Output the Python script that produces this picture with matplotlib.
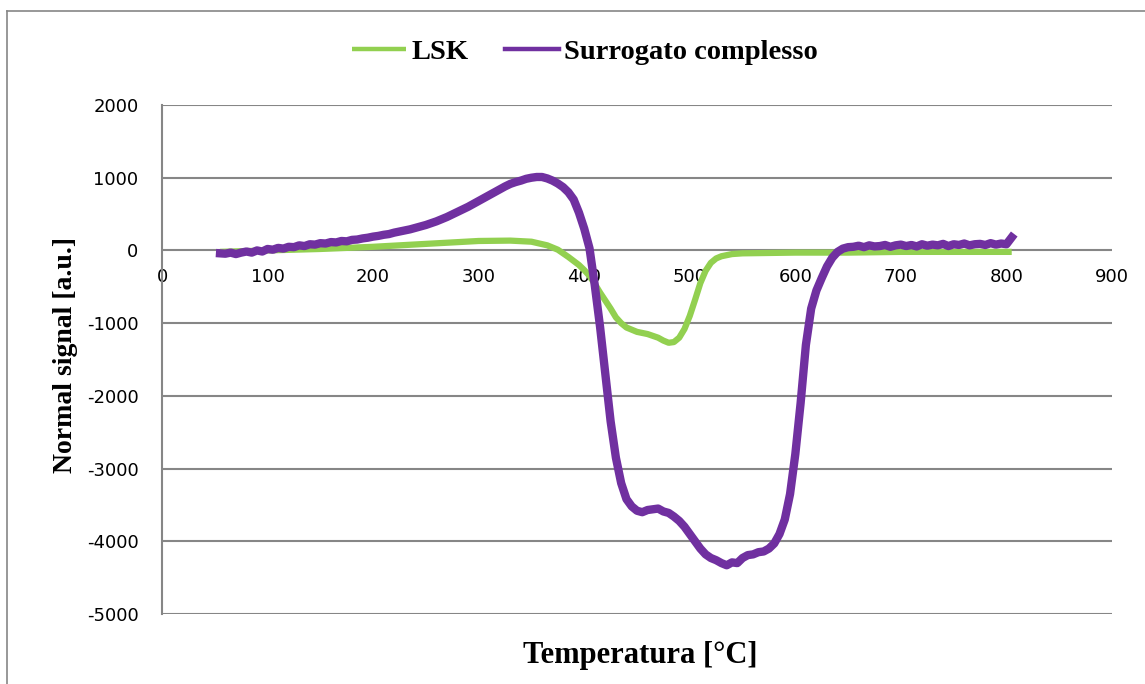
import matplotlib
matplotlib.use("Agg")
import matplotlib.pyplot as plt
from matplotlib.lines import Line2D

# ---- data ----
temp_purple = list(range(55, 810, 5))  # 55 ... 805 °C sample grid
signal_purple = [
    -40, -45, -30, -50, -30, -15, -30, 0, -15, 20,             # 55-100
    10, 35, 25, 50, 45, 70, 60, 85, 80, 100,                   # 105-150
    95, 115, 110, 130, 125, 145, 150, 165, 175, 190,           # 155-200
    200, 215, 225, 245, 260, 275, 290, 310, 330, 350,          # 205-250
    375, 400, 430, 460, 495, 530, 565, 600, 640, 680,          # 255-300
    720, 760, 800, 840, 880, 915, 940, 960, 985, 1000,         # 305-350
    1010, 1010, 990, 960, 920, 870, 800, 700, 520, 300,        # 355-400
    30, -480, -1050, -1700, -2350, -2850, -3200, -3420, -3520, -3580,  # 405-450
    -3600, -3570, -3560, -3550, -3590, -3610, -3660, -3720, -3800, -3900,  # 455-500
    -4000, -4100, -4180, -4230, -4260, -4300, -4330, -4290, -4300, -4230,  # 505-550
    -4190, -4180, -4150, -4140, -4100, -4030, -3900, -3700, -3350, -2800,  # 555-600
    -2100, -1300, -800, -550, -380, -220, -100, -20, 25, 45,   # 605-650
    50, 65, 45, 70, 55, 60, 75, 50, 70, 80,                    # 655-700
    60, 75, 55, 85, 65, 80, 70, 90, 60, 85,                    # 705-750
    75, 95, 70, 85, 90, 75, 100, 80, 95, 85,                   # 755-800
    180,                                                       # 805
]

temp_lsk = [55, 100, 150, 200, 250, 300, 330, 350, 365, 375, 385, 395, 400, 405, 410, 415,
            420, 425, 430, 435, 440, 450, 460, 470, 475, 480, 485, 490, 495, 500, 505, 510, 515,
            520, 525, 530, 540, 550, 600, 650, 700, 750, 800, 805]
signal_lsk = [-20, 0, 20, 50, 90, 130, 135, 120, 70, 10, -90, -200, -270, -350, -460, -580,
              -690, -800, -920, -1000, -1060, -1120, -1150, -1200, -1240, -1270, -1260, -1200, -1080,
              -900, -680, -450, -280, -170, -110, -80, -50, -40, -30, -30, -20, -20, -20, -20]

series_names = ["LSK", "Surrogato complesso"]
x_ticks = [0, 100, 200, 300, 400, 500, 600, 700, 800, 900]
y_ticks = [-5000, -4000, -3000, -2000, -1000, 0, 1000, 2000]

GREEN = "#92D050"
PURPLE = "#7030A0"
GRID = "#868686"

fig = plt.figure(figsize=(11.45, 6.84), dpi=100)
W, H = 1145, 684
ax = fig.add_axes([162 / W, 1 - 614 / H, (1112 - 162) / W, (614 - 105) / H])

ax.plot(temp_lsk, signal_lsk, color=GREEN, lw=4.5, solid_capstyle="butt", label=series_names[0], zorder=3)
ax.plot(temp_purple, signal_purple, color=PURPLE, lw=6.0, solid_joinstyle="round", label=series_names[1], zorder=4)

ax.set_xlim(0, 900)
ax.set_ylim(-5000, 2000)
ax.set_xticks(x_ticks)
ax.set_yticks(y_ticks)
ax.set_xticklabels([str(v) for v in x_ticks])
ax.set_yticklabels([str(v) for v in y_ticks])

ax.yaxis.grid(True, color=GRID, lw=1.5)
ax.set_axisbelow(True)
for s in ["top", "right"]:
    ax.spines[s].set_visible(False)
ax.spines["bottom"].set_position(("data", 0))
ax.spines["bottom"].set_visible(False)
ax.spines["left"].set_color(GRID)
ax.spines["left"].set_linewidth(1.5)

ax.tick_params(axis="x", length=0, pad=13, labelsize=13)
ax.tick_params(axis="y", length=0, pad=17, labelsize=13)
for t in ax.get_xticklabels() + ax.get_yticklabels():
    t.set_fontfamily("DejaVu Sans")

fig.text(640 / W, 1 - 655 / H, "Temperatura [°C]", ha="center", va="center",
         fontsize=22, fontweight="bold", family="Liberation Serif")
fig.text(65 / W, 1 - 355 / H, "Normal signal [a.u.]", ha="center", va="center", rotation=90,
         fontsize=20, fontweight="bold", family="Liberation Serif")

leg = fig.legend(loc="center", bbox_to_anchor=(585 / W, 1 - 52 / H), ncol=2, frameon=False,
                 prop={"family": "Liberation Serif", "weight": "bold", "size": 20.5},
                 handlelength=1.9, handletextpad=0.18, columnspacing=1.3)
for h in leg.get_lines():
    h.set_linewidth(3.2)

# figure border (top and left visible)
fig.add_artist(Line2D([7 / W, 7 / W], [0, 1 - 11 / H], transform=fig.transFigure, color=GRID, lw=1.2))
fig.add_artist(Line2D([7 / W, 1], [1 - 11 / H, 1 - 11 / H], transform=fig.transFigure, color=GRID, lw=1.2))

fig.savefig("out.png", dpi=100)
